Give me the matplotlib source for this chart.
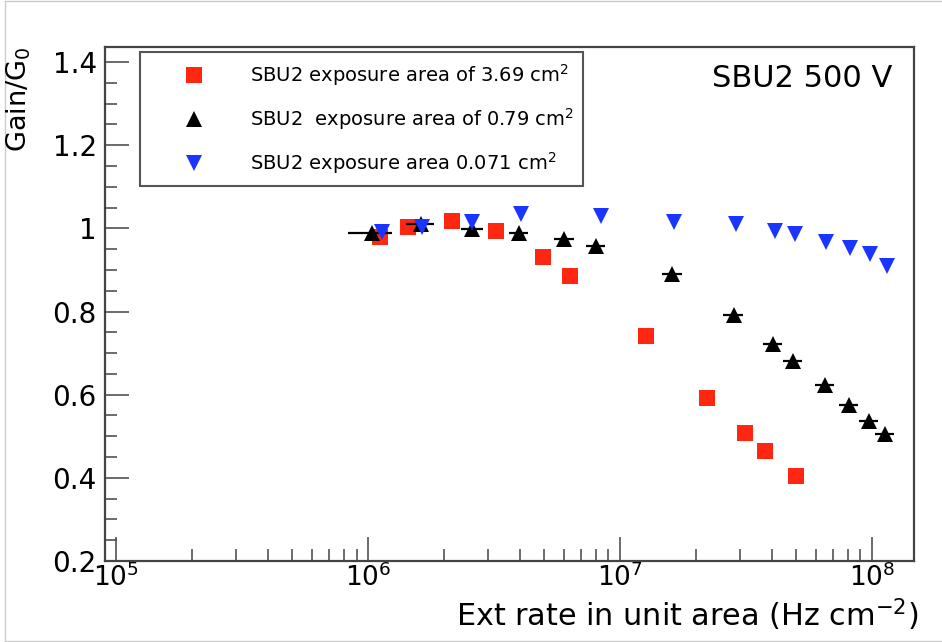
import numpy as np
import matplotlib
matplotlib.use("Agg")
import matplotlib.pyplot as plt
from matplotlib.ticker import LogLocator, MultipleLocator, FuncFormatter, NullFormatter
from matplotlib.lines import Line2D

plt.rcParams['font.family'] = ['DejaVu Sans']
plt.rcParams['mathtext.default'] = 'regular'

# --- measured gain ratio vs. external rate, SBU2 at 500 V ---
# exposure area 3.69 cm^2
rate_369 = [1.12e6, 1.44e6, 2.15e6, 3.22e6, 4.95e6, 6.33e6,
            1.27e7, 2.21e7, 3.13e7, 3.76e7, 4.99e7]
gain_369 = [0.980, 1.004, 1.018, 0.994, 0.931, 0.886,
            0.742, 0.593, 0.508, 0.465, 0.405]

# exposure area 0.79 cm^2 (with rate uncertainty, fractional)
rate_079 = [1.04e6, 1.62e6, 2.59e6, 3.97e6, 6.0e6, 8.03e6, 1.61e7,
            2.83e7, 4.05e7, 4.86e7, 6.51e7, 8.1e7, 9.73e7, 1.127e8]
gain_079 = [0.989, 1.011, 0.999, 0.989, 0.975, 0.958, 0.891,
            0.792, 0.722, 0.681, 0.624, 0.576, 0.537, 0.506]
rate_err_079 = [0.20, 0.13, 0.10, 0.09, 0.09, 0.09, 0.09,
                0.09, 0.09, 0.09, 0.09, 0.09, 0.09, 0.09]

# exposure area 0.071 cm^2
rate_0071 = [1.14e6, 1.64e6, 2.59e6, 4.05e6, 8.41e6, 1.64e7, 2.88e7,
             4.12e7, 4.94e7, 6.56e7, 8.18e7, 9.82e7, 1.148e8]
gain_0071 = [0.992, 1.004, 1.016, 1.035, 1.030, 1.016, 1.011,
             0.994, 0.987, 0.968, 0.953, 0.939, 0.910]

labels = [r'SBU2 exposure area of 3.69 cm$^{2}$',
          r'SBU2  exposure area of 0.79 cm$^{2}$',
          r'SBU2 exposure area 0.071 cm$^{2}$']

W, H = 942, 642
fig = plt.figure(figsize=(W / 100, H / 100), dpi=100)
ax = fig.add_axes([105 / W, 1 - 561 / H, (914 - 105) / W, (561 - 46.7) / H])

red = '#ff2612'
blue = '#1a35ff'

ax.plot(rate_369, gain_369, 's', color=red, ms=11.5, mew=0, zorder=3)
xerr = np.array(rate_079) * np.array(rate_err_079)
ax.errorbar(rate_079, gain_079, xerr=xerr, fmt='^', color='black', ms=11, mew=0,
            elinewidth=1.6, capsize=1.5, capthick=2.5, zorder=4)
ax.plot(rate_0071, gain_0071, 'v', color=blue, ms=11, mew=0, zorder=5)

ax.set_xscale('log')
ax.set_xlim(10 ** 4.956, 10 ** 8.167)
ax.set_ylim(0.2, 1.437)

ax.xaxis.set_major_locator(LogLocator(base=10, numticks=10))
ax.xaxis.set_minor_locator(LogLocator(base=10, subs=np.arange(2, 10), numticks=20))
ax.xaxis.set_minor_formatter(NullFormatter())
ax.yaxis.set_major_locator(MultipleLocator(0.2))
ax.yaxis.set_minor_locator(MultipleLocator(0.05))
ax.yaxis.set_major_formatter(FuncFormatter(lambda v, p: '%g' % round(v, 2)))

axis_col = '#444444'
for s in ax.spines.values():
    s.set_color(axis_col)
    s.set_linewidth(1.6)
ax.tick_params(which='both', direction='in', color=axis_col, width=1.1,
               top=False, right=False)
ax.tick_params(which='major', length=17)
ax.tick_params(which='minor', length=8.6)
ax.tick_params(axis='y', labelsize=20, pad=6)
ax.tick_params(axis='x', labelsize=19, pad=2)

# legend
handles = [Line2D([], [], ls='none', marker='s', color=red, ms=11.5, mew=0),
           Line2D([], [], ls='none', marker='^', color='black', ms=11, mew=0),
           Line2D([], [], ls='none', marker='v', color=blue, ms=11, mew=0)]
leg = ax.legend(handles, labels, loc='upper left',
                bbox_to_anchor=(140 / W, 1 - 52 / H), bbox_transform=fig.transFigure,
                fontsize=14, frameon=True, fancybox=False, framealpha=1,
                borderpad=0.5, handlelength=4.6, handletextpad=0.55,
                labelspacing=0.95, borderaxespad=0, numpoints=1)
leg.get_frame().set_edgecolor('#555555')
leg.get_frame().set_linewidth(1.5)

fig.text(712 / W, 1 - 86.7 / H, 'SBU2 500 V', fontsize=22, va='baseline', ha='left')

fig.text(19 / W, 1 - 46 / H, r'Gain/G$_{0}$', rotation=90, fontsize=19.5,
         ha='center', va='top')
fig.text(918 / W, 1 - 626 / H, r'Ext rate in unit area (Hz cm$^{-2}$)', fontsize=21.8,
         ha='right', va='baseline')

# thin page border
border = '#cccccc'
fig.add_artist(Line2D([5 / W, 5 / W], [0.5 / H, 1 - 1 / H], color=border, lw=1))
fig.add_artist(Line2D([5 / W, 1], [1.5 / H, 1.5 / H], color=border, lw=1))
fig.add_artist(Line2D([5 / W, 1], [1 - 1 / H, 1 - 1 / H], color=border, lw=1))

fig.savefig('out.png', dpi=100)
